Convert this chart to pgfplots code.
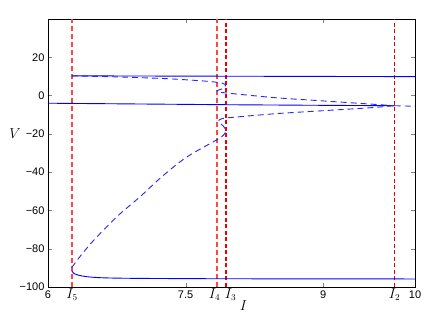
\documentclass[border=0pt]{standalone}
\usepackage{pgfplots}
\pgfplotsset{compat=1.18}
\usepackage{fontspec}
\setmainfont{Liberation Sans}
\definecolor{lred}{RGB}{255,70,70}
\definecolor{dred}{RGB}{235,0,0}
\begin{document}
\begin{tikzpicture}
\begin{axis}[
  scale only axis, width=367pt, height=268pt,
  xmin=6, xmax=10, ymin=-100, ymax=40,
  xtick={6,7.5,9,10}, xticklabels={6,7.5,9,10},
  ytick={-100,-80,-60,-40,-20,0,20},
  yticklabels={−100,−80,−60,−40,−20,0,20},
  extra x ticks={6.2616,7.842,7.9401,9.7766},
  extra x tick labels={$I_5$,\hspace*{-5pt}$I_4$,\hspace*{9pt}$I_3$,$I_2$},
  extra x tick style={grid=none, major tick length=0pt, tick label style={font=\fontsize{13.5}{14}\selectfont, yshift=2pt}},
  tick align=inside, major tick length=4pt,
  tick label style={font=\fontsize{11}{11}\selectfont},
  xlabel={$I$}, xlabel style={at={(axis description cs:0.533,0)}, anchor=center, yshift=-19pt, font=\fontsize{15}{15}\selectfont},
  ylabel={$V$}, ylabel style={at={(axis description cs:-0.09,0.571)}, anchor=center, rotate=-90, font=\fontsize{15}{15}\selectfont},
  axis line style={line width=0.8pt},
  clip=true,
]
% red vertical lines
\addplot[draw=lred, line width=1.6pt, dash pattern=on 5pt off 3pt] coordinates {(6.2616,-100) (6.2616,40)};
\addplot[draw=lred, line width=1.6pt, dash pattern=on 5pt off 3pt] coordinates {(7.842,-100) (7.842,40)};
\addplot[draw=dred, line width=1.5pt, dash pattern=on 4pt off 2.5pt] coordinates {(7.9401,-100) (7.9401,40)};
\addplot[draw=dred, line width=1.5pt, dash pattern=on 4pt off 2.5pt] coordinates {(9.7766,-100) (9.7766,40)};
% upper solid
\addplot[blue, line width=0.9pt] coordinates {(6.26,10.3) (8,10.1) (10,9.9)};
% middle solid
\addplot[blue, line width=0.9pt] coordinates {(6,-4.0) (7,-4.4) (8,-4.8) (9,-5.1) (9.777,-5.3)};
\addplot[blue!80, line width=0.9pt, dash pattern=on 6pt off 4pt] coordinates {(9.777,-5.3) (10,-5.6)};
% lower solid
\addplot[blue, line width=0.9pt, smooth] coordinates {(6.26,-91.5) (6.28,-92.8) (6.33,-93.8) (6.42,-94.6) (6.6,-95.2) (7,-95.5) (8,-95.7) (10,-95.8)};
% upper dashed branch
\addplot[blue!85, line width=0.9pt, dash pattern=on 6pt off 4pt, smooth] coordinates {(6.26,10.3) (6.8,9.7) (7.3,8.8) (7.7,7.6) (7.9,6.5) (7.935,5.2) (7.9,3.6) (7.84,2.4) (7.9,1.6) (8.1,0.6) (8.5,-1.2) (9,-2.8) (9.5,-4.4) (9.777,-5.3)};
% lower dashed branch
\addplot[blue!85, line width=0.9pt, dash pattern=on 6pt off 4pt, smooth] coordinates {(6.26,-89.8) (6.35,-84) (6.5,-75.5) (6.75,-63.3) (7,-53) (7.25,-42) (7.5,-32.5) (7.75,-25.5) (7.88,-22) (7.93,-19.5) (7.92,-16.5) (7.86,-13.5) (7.9,-12) (8.1,-11) (8.5,-9.4) (9,-7.9) (9.5,-6.4) (9.777,-5.3)};
\end{axis}
\path (current axis.south west) ++(-48pt,-33pt) rectangle ++(446pt,320pt);
\end{tikzpicture}
\end{document}
